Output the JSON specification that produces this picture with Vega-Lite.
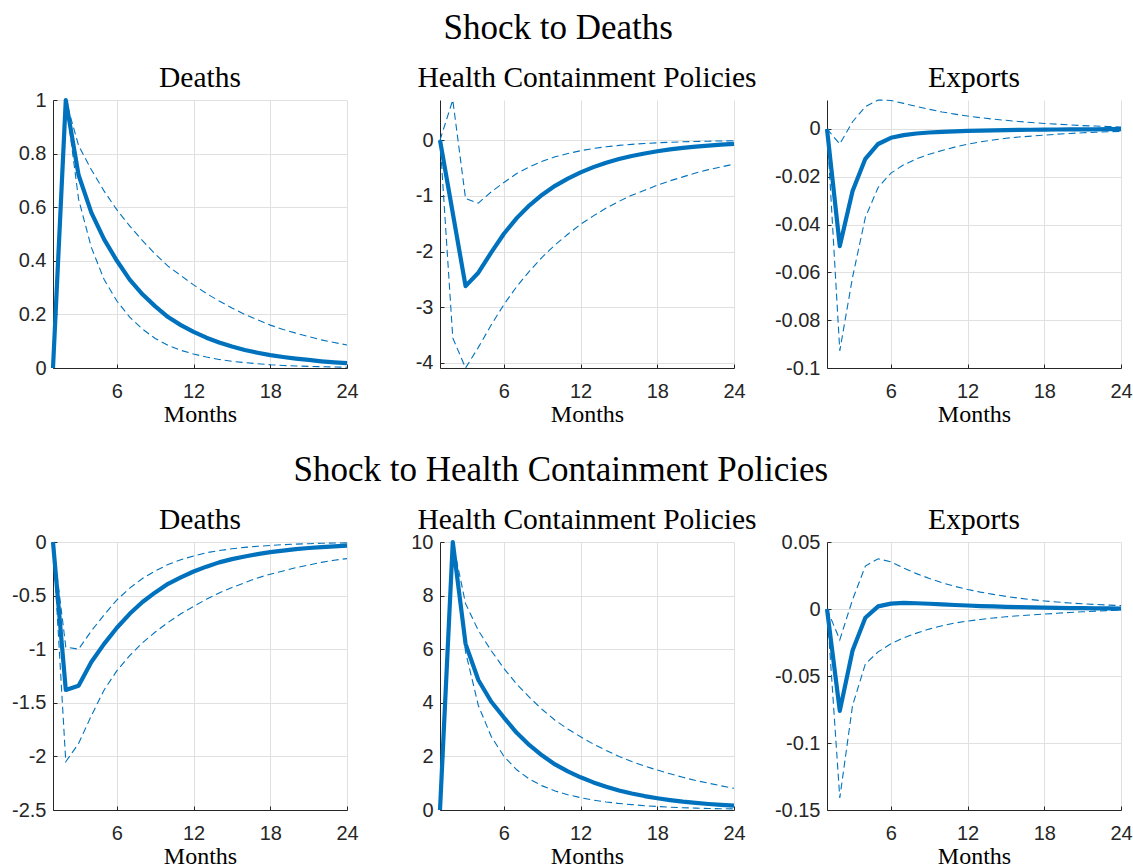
{
 "$schema": "https://vega.github.io/schema/vega-lite/v6.json",
 "background": "white",
 "padding": {"left": 11, "top": 10, "right": 5, "bottom": 5},
 "data": {"values": [
  {"p":"dd","m":1,"med":0,"lo":0,"hi":0},
  {"p":"dd","m":2,"med":1,"lo":1,"hi":1},
  {"p":"dd","m":3,"med":0.72,"lo":0.63,"hi":0.83},
  {"p":"dd","m":4,"med":0.58,"lo":0.45,"hi":0.74},
  {"p":"dd","m":5,"med":0.48,"lo":0.33,"hi":0.66},
  {"p":"dd","m":6,"med":0.40,"lo":0.25,"hi":0.59},
  {"p":"dd","m":7,"med":0.33,"lo":0.19,"hi":0.53},
  {"p":"dd","m":8,"med":0.275,"lo":0.145,"hi":0.475},
  {"p":"dd","m":9,"med":0.23,"lo":0.11,"hi":0.425},
  {"p":"dd","m":10,"med":0.19,"lo":0.085,"hi":0.38},
  {"p":"dd","m":11,"med":0.16,"lo":0.066,"hi":0.345},
  {"p":"dd","m":12,"med":0.135,"lo":0.052,"hi":0.31},
  {"p":"dd","m":13,"med":0.113,"lo":0.041,"hi":0.278},
  {"p":"dd","m":14,"med":0.095,"lo":0.032,"hi":0.25},
  {"p":"dd","m":15,"med":0.08,"lo":0.025,"hi":0.224},
  {"p":"dd","m":16,"med":0.067,"lo":0.02,"hi":0.2},
  {"p":"dd","m":17,"med":0.057,"lo":0.016,"hi":0.18},
  {"p":"dd","m":18,"med":0.048,"lo":0.012,"hi":0.16},
  {"p":"dd","m":19,"med":0.041,"lo":0.0095,"hi":0.144},
  {"p":"dd","m":20,"med":0.035,"lo":0.0075,"hi":0.13},
  {"p":"dd","m":21,"med":0.03,"lo":0.006,"hi":0.117},
  {"p":"dd","m":22,"med":0.025,"lo":0.0048,"hi":0.105},
  {"p":"dd","m":23,"med":0.021,"lo":0.0038,"hi":0.095},
  {"p":"dd","m":24,"med":0.018,"lo":0.003,"hi":0.086},
  {"p":"dh","m":1,"med":0,"lo":0,"hi":0},
  {"p":"dh","m":2,"med":-1.31,"lo":-3.55,"hi":0.72},
  {"p":"dh","m":3,"med":-2.62,"lo":-4.09,"hi":-1.05},
  {"p":"dh","m":4,"med":-2.38,"lo":-3.72,"hi":-1.13},
  {"p":"dh","m":5,"med":-2.02,"lo":-3.32,"hi":-0.93},
  {"p":"dh","m":6,"med":-1.68,"lo":-2.95,"hi":-0.76},
  {"p":"dh","m":7,"med":-1.40,"lo":-2.63,"hi":-0.60},
  {"p":"dh","m":8,"med":-1.17,"lo":-2.35,"hi":-0.48},
  {"p":"dh","m":9,"med":-0.98,"lo":-2.10,"hi":-0.38},
  {"p":"dh","m":10,"med":-0.82,"lo":-1.88,"hi":-0.30},
  {"p":"dh","m":11,"med":-0.69,"lo":-1.69,"hi":-0.24},
  {"p":"dh","m":12,"med":-0.58,"lo":-1.51,"hi":-0.19},
  {"p":"dh","m":13,"med":-0.485,"lo":-1.36,"hi":-0.15},
  {"p":"dh","m":14,"med":-0.405,"lo":-1.22,"hi":-0.12},
  {"p":"dh","m":15,"med":-0.34,"lo":-1.10,"hi":-0.095},
  {"p":"dh","m":16,"med":-0.285,"lo":-0.99,"hi":-0.076},
  {"p":"dh","m":17,"med":-0.24,"lo":-0.90,"hi":-0.06},
  {"p":"dh","m":18,"med":-0.20,"lo":-0.81,"hi":-0.048},
  {"p":"dh","m":19,"med":-0.167,"lo":-0.73,"hi":-0.038},
  {"p":"dh","m":20,"med":-0.14,"lo":-0.66,"hi":-0.03},
  {"p":"dh","m":21,"med":-0.117,"lo":-0.59,"hi":-0.024},
  {"p":"dh","m":22,"med":-0.098,"lo":-0.53,"hi":-0.019},
  {"p":"dh","m":23,"med":-0.082,"lo":-0.48,"hi":-0.015},
  {"p":"dh","m":24,"med":-0.068,"lo":-0.43,"hi":-0.012},
  {"p":"dx","m":1,"med":0,"lo":0,"hi":0},
  {"p":"dx","m":2,"med":-0.049,"lo":-0.0928,"hi":-0.0063},
  {"p":"dx","m":3,"med":-0.026,"lo":-0.062,"hi":0.003},
  {"p":"dx","m":4,"med":-0.0125,"lo":-0.037,"hi":0.0093},
  {"p":"dx","m":5,"med":-0.0063,"lo":-0.0245,"hi":0.0121},
  {"p":"dx","m":6,"med":-0.0037,"lo":-0.0185,"hi":0.0119},
  {"p":"dx","m":7,"med":-0.0026,"lo":-0.015,"hi":0.0107},
  {"p":"dx","m":8,"med":-0.0019,"lo":-0.0125,"hi":0.0094},
  {"p":"dx","m":9,"med":-0.0015,"lo":-0.0106,"hi":0.0082},
  {"p":"dx","m":10,"med":-0.0012,"lo":-0.009,"hi":0.0071},
  {"p":"dx","m":11,"med":-0.001,"lo":-0.0076,"hi":0.0062},
  {"p":"dx","m":12,"med":-0.0008,"lo":-0.0064,"hi":0.0054},
  {"p":"dx","m":13,"med":-0.0007,"lo":-0.0054,"hi":0.0047},
  {"p":"dx","m":14,"med":-0.0006,"lo":-0.0046,"hi":0.0041},
  {"p":"dx","m":15,"med":-0.0005,"lo":-0.0039,"hi":0.0036},
  {"p":"dx","m":16,"med":-0.0004,"lo":-0.0034,"hi":0.0031},
  {"p":"dx","m":17,"med":-0.00035,"lo":-0.003,"hi":0.0027},
  {"p":"dx","m":18,"med":-0.0003,"lo":-0.0026,"hi":0.0023},
  {"p":"dx","m":19,"med":-0.00025,"lo":-0.0022,"hi":0.002},
  {"p":"dx","m":20,"med":-0.0002,"lo":-0.0019,"hi":0.0017},
  {"p":"dx","m":21,"med":-0.00018,"lo":-0.0016,"hi":0.0014},
  {"p":"dx","m":22,"med":-0.00015,"lo":-0.0014,"hi":0.0012},
  {"p":"dx","m":23,"med":-0.00012,"lo":-0.0012,"hi":0.001},
  {"p":"dx","m":24,"med":-0.0001,"lo":-0.001,"hi":0.0008},
  {"p":"hd","m":1,"med":0,"lo":0,"hi":0},
  {"p":"hd","m":2,"med":-1.38,"lo":-2.05,"hi":-0.98},
  {"p":"hd","m":3,"med":-1.34,"lo":-1.88,"hi":-1.0},
  {"p":"hd","m":4,"med":-1.12,"lo":-1.62,"hi":-0.83},
  {"p":"hd","m":5,"med":-0.95,"lo":-1.38,"hi":-0.68},
  {"p":"hd","m":6,"med":-0.80,"lo":-1.20,"hi":-0.54},
  {"p":"hd","m":7,"med":-0.67,"lo":-1.06,"hi":-0.43},
  {"p":"hd","m":8,"med":-0.56,"lo":-0.94,"hi":-0.34},
  {"p":"hd","m":9,"med":-0.47,"lo":-0.84,"hi":-0.27},
  {"p":"hd","m":10,"med":-0.39,"lo":-0.75,"hi":-0.21},
  {"p":"hd","m":11,"med":-0.33,"lo":-0.67,"hi":-0.165},
  {"p":"hd","m":12,"med":-0.275,"lo":-0.60,"hi":-0.13},
  {"p":"hd","m":13,"med":-0.23,"lo":-0.535,"hi":-0.10},
  {"p":"hd","m":14,"med":-0.19,"lo":-0.475,"hi":-0.08},
  {"p":"hd","m":15,"med":-0.16,"lo":-0.425,"hi":-0.063},
  {"p":"hd","m":16,"med":-0.135,"lo":-0.38,"hi":-0.05},
  {"p":"hd","m":17,"med":-0.113,"lo":-0.335,"hi":-0.04},
  {"p":"hd","m":18,"med":-0.095,"lo":-0.30,"hi":-0.032},
  {"p":"hd","m":19,"med":-0.08,"lo":-0.27,"hi":-0.025},
  {"p":"hd","m":20,"med":-0.067,"lo":-0.24,"hi":-0.02},
  {"p":"hd","m":21,"med":-0.056,"lo":-0.215,"hi":-0.016},
  {"p":"hd","m":22,"med":-0.047,"lo":-0.19,"hi":-0.012},
  {"p":"hd","m":23,"med":-0.04,"lo":-0.17,"hi":-0.01},
  {"p":"hd","m":24,"med":-0.034,"lo":-0.155,"hi":-0.008},
  {"p":"hh","m":1,"med":0,"lo":0,"hi":0},
  {"p":"hh","m":2,"med":10,"lo":10,"hi":10},
  {"p":"hh","m":3,"med":6.2,"lo":5.9,"hi":7.7},
  {"p":"hh","m":4,"med":4.85,"lo":3.9,"hi":6.7},
  {"p":"hh","m":5,"med":4.05,"lo":2.75,"hi":5.95},
  {"p":"hh","m":6,"med":3.45,"lo":2.0,"hi":5.28},
  {"p":"hh","m":7,"med":2.88,"lo":1.5,"hi":4.7},
  {"p":"hh","m":8,"med":2.42,"lo":1.15,"hi":4.2},
  {"p":"hh","m":9,"med":2.03,"lo":0.9,"hi":3.75},
  {"p":"hh","m":10,"med":1.70,"lo":0.71,"hi":3.35},
  {"p":"hh","m":11,"med":1.44,"lo":0.57,"hi":3.02},
  {"p":"hh","m":12,"med":1.22,"lo":0.46,"hi":2.73},
  {"p":"hh","m":13,"med":1.03,"lo":0.37,"hi":2.46},
  {"p":"hh","m":14,"med":0.87,"lo":0.30,"hi":2.22},
  {"p":"hh","m":15,"med":0.73,"lo":0.245,"hi":2.0},
  {"p":"hh","m":16,"med":0.615,"lo":0.2,"hi":1.81},
  {"p":"hh","m":17,"med":0.52,"lo":0.16,"hi":1.64},
  {"p":"hh","m":18,"med":0.44,"lo":0.13,"hi":1.49},
  {"p":"hh","m":19,"med":0.37,"lo":0.105,"hi":1.35},
  {"p":"hh","m":20,"med":0.31,"lo":0.085,"hi":1.22},
  {"p":"hh","m":21,"med":0.265,"lo":0.07,"hi":1.1},
  {"p":"hh","m":22,"med":0.225,"lo":0.057,"hi":1.0},
  {"p":"hh","m":23,"med":0.19,"lo":0.047,"hi":0.9},
  {"p":"hh","m":24,"med":0.165,"lo":0.04,"hi":0.81},
  {"p":"hx","m":1,"med":0,"lo":0,"hi":0},
  {"p":"hx","m":2,"med":-0.076,"lo":-0.141,"hi":-0.023},
  {"p":"hx","m":3,"med":-0.031,"lo":-0.072,"hi":0.007},
  {"p":"hx","m":4,"med":-0.0065,"lo":-0.041,"hi":0.032},
  {"p":"hx","m":5,"med":0.002,"lo":-0.032,"hi":0.0375},
  {"p":"hx","m":6,"med":0.004,"lo":-0.026,"hi":0.0352},
  {"p":"hx","m":7,"med":0.0045,"lo":-0.0215,"hi":0.0305},
  {"p":"hx","m":8,"med":0.0043,"lo":-0.018,"hi":0.0264},
  {"p":"hx","m":9,"med":0.0039,"lo":-0.015,"hi":0.0228},
  {"p":"hx","m":10,"med":0.0034,"lo":-0.0125,"hi":0.0196},
  {"p":"hx","m":11,"med":0.003,"lo":-0.0105,"hi":0.0169},
  {"p":"hx","m":12,"med":0.0026,"lo":-0.009,"hi":0.0146},
  {"p":"hx","m":13,"med":0.0022,"lo":-0.0078,"hi":0.0126},
  {"p":"hx","m":14,"med":0.0019,"lo":-0.0067,"hi":0.0109},
  {"p":"hx","m":15,"med":0.0016,"lo":-0.0058,"hi":0.0094},
  {"p":"hx","m":16,"med":0.0014,"lo":-0.005,"hi":0.0081},
  {"p":"hx","m":17,"med":0.0012,"lo":-0.0044,"hi":0.007},
  {"p":"hx","m":18,"med":0.001,"lo":-0.0038,"hi":0.006},
  {"p":"hx","m":19,"med":0.0008,"lo":-0.0032,"hi":0.0052},
  {"p":"hx","m":20,"med":0.0007,"lo":-0.0026,"hi":0.0045},
  {"p":"hx","m":21,"med":0.0006,"lo":-0.0021,"hi":0.0039},
  {"p":"hx","m":22,"med":0.0005,"lo":-0.0016,"hi":0.0034},
  {"p":"hx","m":23,"med":0.0004,"lo":-0.0012,"hi":0.0029},
  {"p":"hx","m":24,"med":0.0003,"lo":-0.0009,"hi":0.0025}
 ]},
 "spacing": 26,
 "vconcat": [
  {
   "title": {"text": "Shock to Deaths", "fontSize": 35, "offset": 17, "anchor": "middle", "dx": -17},
   "bounds": "flush",
   "spacing": 93,
   "hconcat": [
    {
     "width": 294, "height": 268, "title": {"text": "Deaths", "offset": -3},
     "transform": [{"filter": "datum.p === 'dd'"}, {"fold": ["med", "lo", "hi"], "as": ["s", "v"]}],
     "encoding": {
      "x": {"field": "m", "type": "quantitative", "scale": {"domain": [1, 24], "nice": false, "zero": false}, "axis": {"values": [6, 12, 18, 24], "title": "Months"}},
      "y": {"field": "v", "type": "quantitative", "scale": {"domain": [0, 1], "nice": false, "zero": false}, "axis": {"values": [0, 0.2, 0.4, 0.6, 0.8, 1], "title": null, "labelExpr": "replace(format(datum.value, '~g'), '−', '-')"}}
     },
     "layer": [
      {"transform": [{"filter": "datum.s !== 'med'"}], "mark": {"type": "line", "color": "#0072BD", "strokeWidth": 1.1, "strokeDash": [7, 4]}, "encoding": {"detail": {"field": "s"}}},
      {"transform": [{"filter": "datum.s === 'med'"}], "mark": {"type": "line", "color": "#0072BD", "strokeWidth": 4.2, "strokeJoin": "round"}, "encoding": {}}
     ]
    },
    {
     "width": 294, "height": 268, "title": {"text": "Health Containment Policies", "offset": 4},
     "transform": [{"filter": "datum.p === 'dh'"}, {"fold": ["med", "lo", "hi"], "as": ["s", "v"]}],
     "encoding": {
      "x": {"field": "m", "type": "quantitative", "scale": {"domain": [1, 24], "nice": false, "zero": false}, "axis": {"values": [6, 12, 18, 24], "title": "Months"}},
      "y": {"field": "v", "type": "quantitative", "scale": {"domain": [-4.09, 0.72], "nice": false, "zero": false}, "axis": {"values": [-4, -3, -2, -1, 0], "title": null, "labelExpr": "replace(format(datum.value, '~g'), '−', '-')"}}
     },
     "layer": [
      {"transform": [{"filter": "datum.s !== 'med'"}], "mark": {"type": "line", "color": "#0072BD", "strokeWidth": 1.1, "strokeDash": [7, 4]}, "encoding": {"detail": {"field": "s"}}},
      {"transform": [{"filter": "datum.s === 'med'"}], "mark": {"type": "line", "color": "#0072BD", "strokeWidth": 4.2, "strokeJoin": "round"}, "encoding": {}}
     ]
    },
    {
     "width": 294, "height": 268, "title": {"text": "Exports", "offset": 4},
     "transform": [{"filter": "datum.p === 'dx'"}, {"fold": ["med", "lo", "hi"], "as": ["s", "v"]}],
     "encoding": {
      "x": {"field": "m", "type": "quantitative", "scale": {"domain": [1, 24], "nice": false, "zero": false}, "axis": {"values": [6, 12, 18, 24], "title": "Months"}},
      "y": {"field": "v", "type": "quantitative", "scale": {"domain": [-0.1, 0.0121], "nice": false, "zero": false}, "axis": {"values": [-0.1, -0.08, -0.06, -0.04, -0.02, 0], "title": null, "labelExpr": "replace(format(datum.value, '~g'), '−', '-')"}}
     },
     "layer": [
      {"transform": [{"filter": "datum.s !== 'med'"}], "mark": {"type": "line", "color": "#0072BD", "strokeWidth": 1.1, "strokeDash": [7, 4]}, "encoding": {"detail": {"field": "s"}}},
      {"transform": [{"filter": "datum.s === 'med'"}], "mark": {"type": "line", "color": "#0072BD", "strokeWidth": 4.2, "strokeJoin": "round"}, "encoding": {}}
     ]
    }
   ]
  },
  {
   "title": {"text": "Shock to Health Containment Policies", "fontSize": 35, "offset": 17, "anchor": "middle", "dx": -11},
   "bounds": "flush",
   "spacing": 93,
   "hconcat": [
    {
     "width": 294, "height": 268, "title": {"text": "Deaths", "offset": -3},
     "transform": [{"filter": "datum.p === 'hd'"}, {"fold": ["med", "lo", "hi"], "as": ["s", "v"]}],
     "encoding": {
      "x": {"field": "m", "type": "quantitative", "scale": {"domain": [1, 24], "nice": false, "zero": false}, "axis": {"values": [6, 12, 18, 24], "title": "Months"}},
      "y": {"field": "v", "type": "quantitative", "scale": {"domain": [-2.5, 0], "nice": false, "zero": false}, "axis": {"values": [-2.5, -2, -1.5, -1, -0.5, 0], "title": null, "labelExpr": "replace(format(datum.value, '~g'), '−', '-')"}}
     },
     "layer": [
      {"transform": [{"filter": "datum.s !== 'med'"}], "mark": {"type": "line", "color": "#0072BD", "strokeWidth": 1.1, "strokeDash": [7, 4]}, "encoding": {"detail": {"field": "s"}}},
      {"transform": [{"filter": "datum.s === 'med'"}], "mark": {"type": "line", "color": "#0072BD", "strokeWidth": 4.2, "strokeJoin": "round"}, "encoding": {}}
     ]
    },
    {
     "width": 294, "height": 268, "title": {"text": "Health Containment Policies", "offset": -3},
     "transform": [{"filter": "datum.p === 'hh'"}, {"fold": ["med", "lo", "hi"], "as": ["s", "v"]}],
     "encoding": {
      "x": {"field": "m", "type": "quantitative", "scale": {"domain": [1, 24], "nice": false, "zero": false}, "axis": {"values": [6, 12, 18, 24], "title": "Months"}},
      "y": {"field": "v", "type": "quantitative", "scale": {"domain": [0, 10], "nice": false, "zero": false}, "axis": {"values": [0, 2, 4, 6, 8, 10], "title": null, "labelExpr": "replace(format(datum.value, '~g'), '−', '-')"}}
     },
     "layer": [
      {"transform": [{"filter": "datum.s !== 'med'"}], "mark": {"type": "line", "color": "#0072BD", "strokeWidth": 1.1, "strokeDash": [7, 4]}, "encoding": {"detail": {"field": "s"}}},
      {"transform": [{"filter": "datum.s === 'med'"}], "mark": {"type": "line", "color": "#0072BD", "strokeWidth": 4.2, "strokeJoin": "round"}, "encoding": {}}
     ]
    },
    {
     "width": 294, "height": 268, "title": {"text": "Exports", "offset": -3},
     "transform": [{"filter": "datum.p === 'hx'"}, {"fold": ["med", "lo", "hi"], "as": ["s", "v"]}],
     "encoding": {
      "x": {"field": "m", "type": "quantitative", "scale": {"domain": [1, 24], "nice": false, "zero": false}, "axis": {"values": [6, 12, 18, 24], "title": "Months"}},
      "y": {"field": "v", "type": "quantitative", "scale": {"domain": [-0.15, 0.05], "nice": false, "zero": false}, "axis": {"values": [-0.15, -0.1, -0.05, 0, 0.05], "title": null, "labelExpr": "replace(format(datum.value, '~g'), '−', '-')"}}
     },
     "layer": [
      {"transform": [{"filter": "datum.s !== 'med'"}], "mark": {"type": "line", "color": "#0072BD", "strokeWidth": 1.1, "strokeDash": [7, 4]}, "encoding": {"detail": {"field": "s"}}},
      {"transform": [{"filter": "datum.s === 'med'"}], "mark": {"type": "line", "color": "#0072BD", "strokeWidth": 4.2, "strokeJoin": "round"}, "encoding": {}}
     ]
    }
   ]
  }
 ],
 "config": {
  "view": {"stroke": null},
  "axis": {"gridColor": "#e0e0e0", "gridWidth": 1, "domainColor": "#262626", "domainWidth": 1, "ticks": true, "tickSize": -4, "tickColor": "#262626", "tickWidth": 1, "labelFont": "Liberation Sans", "labelFontSize": 20, "labelColor": "#262626", "labelPadding": 11, "labelFlush": false, "labelOverlap": false, "titleFont": "Liberation Serif", "titleFontSize": 24, "titleFontWeight": "normal", "titleColor": "#000000", "titlePadding": 1},
  "axisX": {"labelPadding": 17},
  "title": {"font": "Liberation Serif", "fontSize": 29.5, "fontWeight": "normal", "color": "#000000", "baseline": "alphabetic"}
 }
}
